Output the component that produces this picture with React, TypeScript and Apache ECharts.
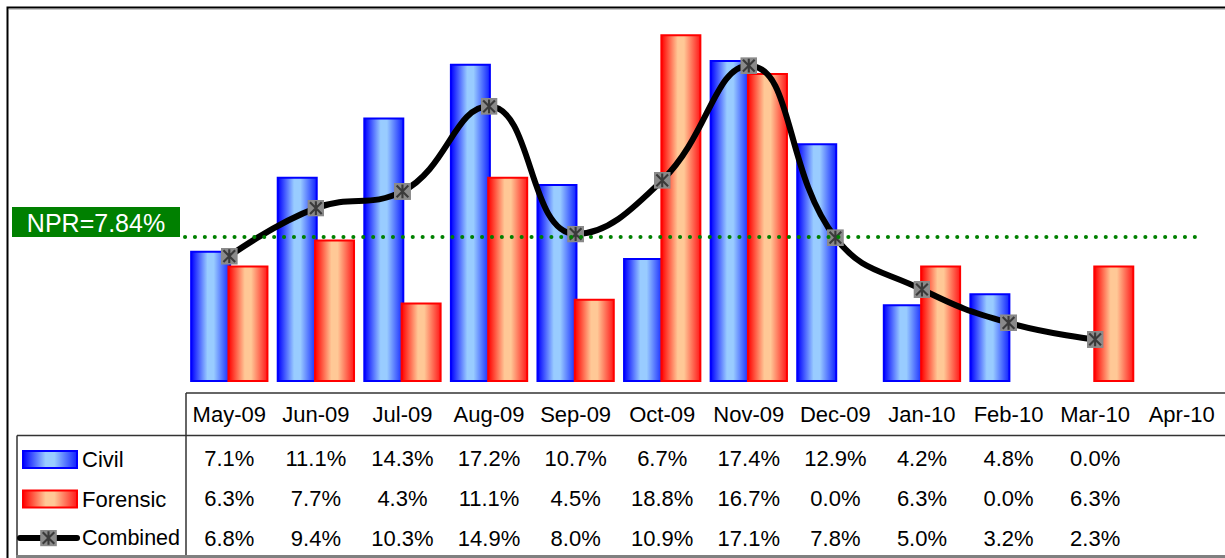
import React, { useEffect, useRef } from 'react';
import * as echarts from 'echarts';

const months = ['May-09', 'Jun-09', 'Jul-09', 'Aug-09', 'Sep-09', 'Oct-09', 'Nov-09', 'Dec-09', 'Jan-10', 'Feb-10', 'Mar-10', 'Apr-10'];
const civil = [7.1, 11.1, 14.3, 17.2, 10.7, 6.7, 17.4, 12.9, 4.2, 4.8, 0.0];
const forensic = [6.3, 7.7, 4.3, 11.1, 4.5, 18.8, 16.7, 0.0, 6.3, 0.0, 6.3];
const combined = [6.8, 9.4, 10.3, 14.9, 8.0, 10.9, 17.1, 7.8, 5.0, 3.2, 2.3];
const npr = 7.84;
const nprLabel = 'NPR=7.84%';

const FONT = '"Liberation Sans", Arial, sans-serif';

const markerSvg =
  '<svg xmlns="http://www.w3.org/2000/svg" width="16" height="16" viewBox="0 0 16 16">' +
  '<rect x="0" y="0" width="16" height="16" fill="#8a8a8a"/>' +
  '<path d="M2.5 2.5L13.5 13.5M13.5 2.5L2.5 13.5M8 1.5V14.5" stroke="#3a3a3a" stroke-width="2" fill="none"/></svg>';
const markerSymbol = 'image://data:image/svg+xml;charset=utf-8,' + encodeURIComponent(markerSvg);

const fmt = (arr: number[]) => (_v: string, i: number) => (arr[i] == null ? '' : arr[i].toFixed(1) + '%');

export default function App() {
  const ref = useRef<HTMLDivElement>(null);
  useEffect(() => {
    if (!ref.current) return;
    const chart = echarts.init(ref.current, null, { renderer: 'svg' });
    const blueGrad = new echarts.graphic.LinearGradient(0, 0, 1, 0, [
      { offset: 0, color: '#0000ff' },
      { offset: 0.42, color: '#99ccff' },
      { offset: 0.58, color: '#99ccff' },
      { offset: 1, color: '#1122ff' },
    ]);
    const redGrad = new echarts.graphic.LinearGradient(0, 0, 1, 0, [
      { offset: 0, color: '#ff0000' },
      { offset: 0.42, color: '#ffc896' },
      { offset: 0.58, color: '#ffc896' },
      { offset: 1, color: '#ff1a1a' },
    ]);
    const barData = (arr: number[]) =>
      arr.map((v) => (v === 0 ? { value: v, itemStyle: { borderWidth: 0 } } : v));

    const axisBase: any = {
      type: 'category',
      data: months,
      gridIndex: 0,
      position: 'bottom',
      axisTick: { show: false },
      axisLine: { show: false },
      splitLine: { show: false },
    };
    const FS = 22;
    const lab = { interval: 0, fontFamily: FONT, fontSize: FS, color: '#000', margin: 0 };
    const legendBase: any = {
      orient: 'horizontal',
      padding: 0,
      itemGap: 5,
      selectedMode: false,
      textStyle: { fontFamily: FONT, fontSize: FS, color: '#000' },
    };
    const half = FS / 2;

    chart.setOption({
      animation: false,
      grid: { left: 186, right: 0, top: 12, bottom: 176, containLabel: false },
      xAxis: [
        { ...axisBase, offset: 11, axisLabel: { ...lab, margin: 414 - 393 - half } },
        { ...axisBase, offset: Math.round(457.5 - 382 - half), axisLabel: { ...lab, formatter: fmt(civil) } },
        { ...axisBase, offset: Math.round(497.5 - 382 - half), axisLabel: { ...lab, formatter: fmt(forensic) } },
        { ...axisBase, offset: Math.round(537.5 - 382 - half), axisLabel: { ...lab, formatter: fmt(combined) } },
      ],
      yAxis: { type: 'value', min: 0, max: 20, show: false },
      legend: [
        { ...legendBase, data: [{ name: 'Civil', icon: 'rect' }], left: 22, top: 459.5 - half, itemWidth: 54, itemHeight: 17 },
        { ...legendBase, data: [{ name: 'Forensic', icon: 'rect' }], left: 22, top: 499 - half, itemWidth: 54, itemHeight: 17 },
        {
          ...legendBase,
          data: ['Combined'],
          left: 17,
          top: 538 - 11,
          itemWidth: 57,
          itemHeight: 21,
          itemGap: 0,
          lineStyle: { width: 6, color: '#000', cap: 'round' },
          textStyle: { fontFamily: FONT, fontSize: 21.5, color: '#000' },
        },
      ],
      series: [
        {
          name: 'Civil',
          type: 'bar',
          data: barData(civil),
          barWidth: 41,
          barGap: '-9%',
          itemStyle: { color: blueGrad, borderColor: '#0000ff', borderWidth: 2 },
          z: 2,
        },
        {
          name: 'Forensic',
          type: 'bar',
          data: barData(forensic),
          barWidth: 41,
          barGap: '-9%',
          itemStyle: { color: redGrad, borderColor: '#ff0000', borderWidth: 2 },
          z: 2,
        },
        {
          name: 'Combined',
          type: 'line',
          data: combined,
          smooth: 0.45,
          symbol: markerSymbol,
          symbolSize: 17,
          showAllSymbol: true,
          lineStyle: { color: '#000', width: 6, cap: 'round' },
          itemStyle: { color: '#000' },
          z: 4,
          markLine: {
            silent: true,
            symbol: ['none', 'none'],
            label: { show: false },
            lineStyle: { color: '#008000', width: 4, type: [0.1, 9.8], cap: 'round' },
            data: [[
              { xAxis: months[0], yAxis: npr, x: 185 },
              { xAxis: months[months.length - 1], yAxis: npr, x: 1204 },
            ]],
          },
        },
      ],
      graphic: [
        { type: 'polyline', silent: true, shape: { points: [[7.5, 560], [7.5, 7.5], [1230, 7.5]] }, style: { stroke: '#000', lineWidth: 2, fill: null } },
        { type: 'line', silent: true, shape: { x1: 9, y1: 9.5, x2: 1230, y2: 9.5 }, style: { stroke: '#c8c8c8', lineWidth: 1 } },
        { type: 'line', silent: true, shape: { x1: 186, y1: 393, x2: 1230, y2: 393 }, style: { stroke: '#333', lineWidth: 1.5 } },
        { type: 'line', silent: true, shape: { x1: 17, y1: 435.5, x2: 1230, y2: 435.5 }, style: { stroke: '#333', lineWidth: 1.5 } },
        { type: 'line', silent: true, shape: { x1: 186, y1: 393, x2: 186, y2: 556 }, style: { stroke: '#333', lineWidth: 1.5 } },
        { type: 'line', silent: true, shape: { x1: 17, y1: 435.5, x2: 17, y2: 556 }, style: { stroke: '#333', lineWidth: 1.5 } },
        { type: 'line', silent: true, shape: { x1: 16, y1: 556.5, x2: 1230, y2: 556.5 }, style: { stroke: '#808080', lineWidth: 3 } },
        { type: 'rect', silent: true, shape: { x: 12, y: 207, width: 168, height: 30 }, style: { fill: '#008000' }, z: 10 },
        {
          type: 'text',
          silent: true,
          x: 96,
          y: 223,
          z: 11,
          style: { text: nprLabel, fill: '#fff', font: `25px ${FONT}`, align: 'center', verticalAlign: 'middle' },
        },
      ],
    });
    return () => chart.dispose();
  }, []);
  return <div ref={ref} style={{ position: 'fixed', left: 0, top: 0, width: 1225, height: 558, background: '#fff' }} />;
}
